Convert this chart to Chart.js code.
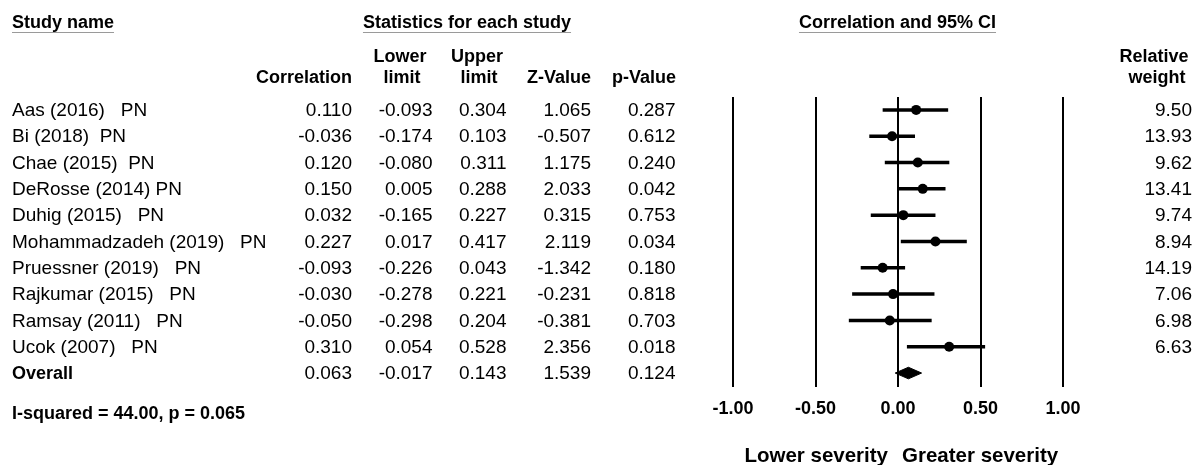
<!DOCTYPE html>
<html>
<head>
<meta charset="utf-8">
<title>Forest plot</title>
<script src="https://cdn.jsdelivr.net/npm/chart.js@4.4.0/dist/chart.umd.min.js"></script>
<style>
  html, body { margin: 0; padding: 0; background: #fff; }
  canvas { display: block; }
</style>
</head>
<body>
<canvas id="forest" width="1200" height="465"></canvas>
<script>
// study rows
const studyNames = [
  "Aas (2016)   PN",
  "Bi (2018)  PN",
  "Chae (2015)  PN",
  "DeRosse (2014) PN",
  "Duhig (2015)   PN",
  "Mohammadzadeh (2019)   PN",
  "Pruessner (2019)   PN",
  "Rajkumar (2015)   PN",
  "Ramsay (2011)   PN",
  "Ucok (2007)   PN"
];
const correlation = [0.110, -0.036, 0.120, 0.150, 0.032, 0.227, -0.093, -0.030, -0.050, 0.310];
const lowerLimit  = [-0.093, -0.174, -0.080, 0.005, -0.165, 0.017, -0.226, -0.278, -0.298, 0.054];
const upperLimit  = [0.304, 0.103, 0.311, 0.288, 0.227, 0.417, 0.043, 0.221, 0.204, 0.528];
const zValue      = [1.065, -0.507, 1.175, 2.033, 0.315, 2.119, -1.342, -0.231, -0.381, 2.356];
const pValue      = [0.287, 0.612, 0.240, 0.042, 0.753, 0.034, 0.180, 0.818, 0.703, 0.018];
const relWeight   = [9.50, 13.93, 9.62, 13.41, 9.74, 8.94, 14.19, 7.06, 6.98, 6.63];

// pooled estimate: correlation, lower, upper, z, p
const overallStats = [0.063, -0.017, 0.143, 1.539, 0.124];
const heterogeneity = "I-squared = 44.00, p = 0.065";

const xTicks = [-1, -0.5, 0, 0.5, 1];

const OVERALL_ROW = studyNames.length;
const DIAMOND_H = 0.22;

const FAMILY = '"Liberation Sans", Arial, sans-serif';
const FONT_REG = "19px " + FAMILY;
const FONT_BOLD = "bold 18px " + FAMILY;
const FONT_AXIS_TITLE = "bold 20.5px " + FAMILY;

// confidence interval whiskers, one small line per study
const ciSets = studyNames.map((_, i) => ({
  type: "line",
  data: [{ x: lowerLimit[i], y: i }, { x: upperLimit[i], y: i }],
  borderColor: "#000",
  borderWidth: 3.5,
  pointRadius: 0,
  fill: false
}));

const pointSet = {
  type: "scatter",
  data: correlation.map((c, i) => ({ x: c, y: i })),
  backgroundColor: "#000",
  borderColor: "#000",
  borderWidth: 0,
  pointRadius: 5
};

// summary diamond as two filled halves
const diamondHalf = (dir) => ({
  type: "line",
  data: [
    { x: overallStats[1], y: OVERALL_ROW },
    { x: overallStats[0], y: OVERALL_ROW + dir * DIAMOND_H },
    { x: overallStats[2], y: OVERALL_ROW }
  ],
  borderColor: "#000",
  backgroundColor: "#000",
  borderWidth: 1,
  pointRadius: 0,
  fill: { value: OVERALL_ROW }
});

const fmt3 = v => v.toFixed(3);

const tableText = {
  id: "tableText",
  afterDraw(chart) {
    const ctx = chart.ctx;
    const ys = chart.scales.y;
    ctx.save();
    ctx.fillStyle = "#000";
    ctx.textBaseline = "middle";

    const put = (s, x, y, align, font) => {
      ctx.font = font;
      ctx.textAlign = align;
      ctx.fillText(s, x, y + 1);
    };
    const heading = (s, x, y, align) => {
      put(s, x, y, align, FONT_BOLD);
      const w = ctx.measureText(s).width;
      const x0 = align === "center" ? x - w / 2 : align === "right" ? x - w : x;
      ctx.save();
      ctx.strokeStyle = "#9a9a9a";
      ctx.lineWidth = 1;
      ctx.beginPath();
      ctx.moveTo(x0, y + 10.5);
      ctx.lineTo(x0 + w, y + 10.5);
      ctx.stroke();
      ctx.restore();
    };

    // top headings
    heading("Study name", 12, 22, "left");
    heading("Statistics for each study", 467, 22, "center");
    heading("Correlation and 95% CI", 897.5, 22, "center");

    // column headings
    put("Correlation", 352, 77, "right", FONT_BOLD);
    put("Lower", 400, 56, "center", FONT_BOLD);
    put("limit", 402, 77, "center", FONT_BOLD);
    put("Upper", 477, 56, "center", FONT_BOLD);
    put("limit", 479, 77, "center", FONT_BOLD);
    put("Z-Value", 591, 77, "right", FONT_BOLD);
    put("p-Value", 676, 77, "right", FONT_BOLD);
    put("Relative", 1154, 56, "center", FONT_BOLD);
    put("weight", 1157, 77, "center", FONT_BOLD);

    const cols = [352, 432.5, 506.5, 591, 675.5];

    studyNames.forEach((name, i) => {
      const y = ys.getPixelForValue(i);
      put(name, 12, y, "left", FONT_REG);
      [correlation[i], lowerLimit[i], upperLimit[i], zValue[i], pValue[i]]
        .forEach((v, k) => put(fmt3(v), cols[k], y, "right", FONT_REG));
      put(relWeight[i].toFixed(2), 1192, y, "right", FONT_REG);
    });

    const yo = ys.getPixelForValue(OVERALL_ROW);
    put("Overall", 12, yo, "left", FONT_BOLD);
    overallStats.forEach((v, k) => put(fmt3(v), cols[k], yo, "right", FONT_REG));

    put(heterogeneity, 12, 413, "left", FONT_BOLD);

    const x0 = chart.scales.x.getPixelForValue(0);
    put("Lower severity", x0 - 10, 455, "right", FONT_AXIS_TITLE);
    put("Greater severity", x0 + 4, 455, "left", FONT_AXIS_TITLE);

    ctx.restore();
  }
};

new Chart(document.getElementById("forest").getContext("2d"), {
  type: "scatter",
  data: { datasets: [...ciSets, pointSet, diamondHalf(-1), diamondHalf(1)] },
  options: {
    responsive: false,
    animation: false,
    events: [],
    layout: { padding: { left: 733, right: 137, top: 97, bottom: 0 } },
    plugins: {
      legend: { display: false },
      tooltip: { enabled: false }
    },
    scales: {
      x: {
        type: "linear",
        position: "bottom",
        min: -1,
        max: 1,
        afterBuildTicks: s => { s.ticks = xTicks.map(v => ({ value: v })); },
        afterFit: s => { s.height = 78; },
        grid: { color: "#000", lineWidth: 2, drawTicks: false },
        border: { display: false },
        ticks: {
          padding: 11,
          color: "#000",
          font: { family: FAMILY, size: 18, weight: "bold" },
          callback: v => v.toFixed(2)
        }
      },
      y: {
        type: "linear",
        reverse: true,
        min: -0.49,
        max: 10.53,
        display: false
      }
    }
  },
  plugins: [tableText]
});
</script>
</body>
</html>
